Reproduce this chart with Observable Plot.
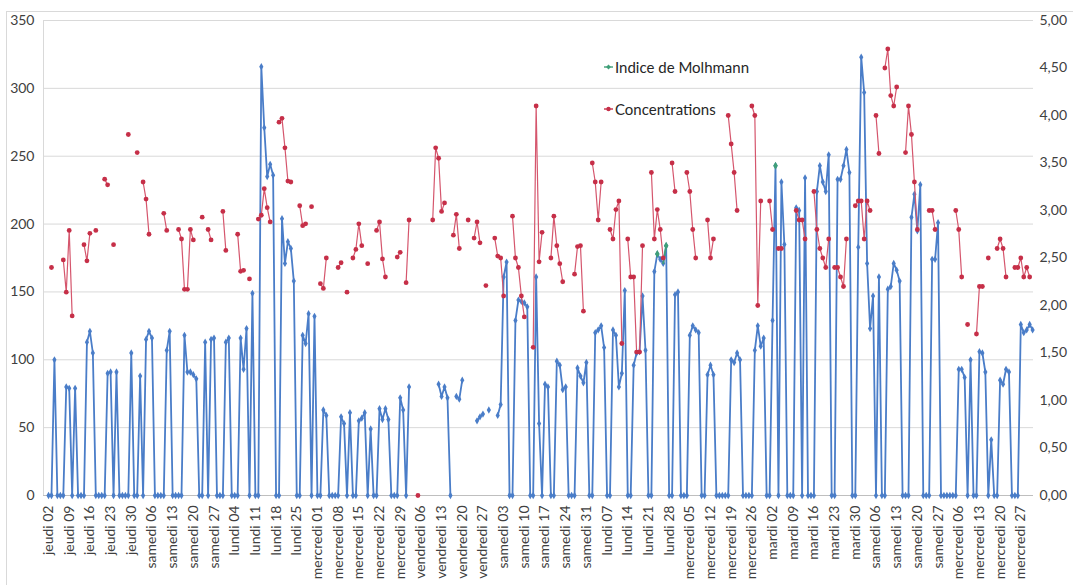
<!DOCTYPE html>
<html>
<head>
<meta charset="utf-8">
<script src="https://cdn.jsdelivr.net/npm/d3@7"></script>
<script src="https://cdn.jsdelivr.net/npm/@observablehq/plot@0.6"></script>
<style>
  html, body { margin: 0; padding: 0; background: #fff; }
  #chart { position: relative; width: 1073px; height: 585px; overflow: hidden; font-family: Lato, "Open Sans", sans-serif; }
  #chart > svg { position: absolute; left: 0; top: 0; }
  #border { position: absolute; left: 6px; top: 11px; width: 1080px; height: 600px; border: 1px solid #d9d9d9; box-sizing: border-box; }
  .legend-item { position: absolute; left: 604px; height: 16px; display: flex; align-items: center; font-size: 15px; color: #262626; white-space: nowrap; }
  .legend-item svg { display: block; margin-right: 2px; }
</style>
</head>
<body>
<div id="chart">
  <div id="border"></div>
</div>
<script>
// Day labels shown every 7th day on the horizontal axis
const dayLabels = [
  "jeudi 02", "jeudi 09", "jeudi 16", "jeudi 23", "jeudi 30",
  "samedi 06", "samedi 13", "samedi 20", "samedi 27",
  "lundi 04", "lundi 11", "lundi 18", "lundi 25",
  "mercredi 01", "mercredi 08", "mercredi 15", "mercredi 22", "mercredi 29",
  "vendredi 06", "vendredi 13", "vendredi 20", "vendredi 27",
  "samedi 03", "samedi 10", "samedi 17", "samedi 24", "samedi 31",
  "lundi 07", "lundi 14", "lundi 21", "lundi 28",
  "mercredi 05", "mercredi 12", "mercredi 19", "mercredi 26",
  "mardi 02", "mardi 09", "mardi 16", "mardi 23", "mardi 30",
  "samedi 06", "samedi 13", "samedi 20", "samedi 27",
  "mercredi 06", "mercredi 13", "mercredi 20", "mercredi 27"
];

// Indice de Molhmann, one value per day (null = no measurement)
const molhmann = [
  0, 0, 100, 0, 0, 0, 80, 79, 0, 79,
  0, 0, 0, 113, 121, 105, 0, 0, 0, 0,
  90, 91, 0, 91, 0, 0, 0, 0, 105, 0,
  0, 88, 0, 115, 121, 116, 0, 0, 0, 0,
  107, 121, 0, 0, 0, 0, 118, 91, 91, 89,
  86, 0, 0, 113, 0, 115, 116, 0, 0, 0,
  113, 116, 0, 0, 0, 116, 93, 123, 0, 149,
  0, 0, 316, 271, 235, 244, 236, 0, 0, 204,
  171, 187, 182, 158, 0, 0, 118, 112, 134, 0,
  132, 0, 0, 63, 59, 0, 0, 0, 0, 58,
  53, 0, 61, 0, 0, 55, 57, 61, 0, 49,
  0, 0, 64, 56, 64, 56, 0, 0, 0, 72,
  63, 0, 80, null, null, null, null, null, null, null,
  null, null, 82, 73, 80, 72, 0, null, 73, 71,
  85, null, null, null, null, 55, 58, 60, null, 63,
  null, null, 59, 67, 161, 172, 0, 0, 129, 144,
  143, 142, 139, 0, 0, 161, 53, 0, 82, 80,
  0, 0, 99, 96, 78, 80, 0, 0, 0, 94,
  88, 83, 98, 0, 0, 120, 122, 125, 109, 0,
  0, 122, 118, 80, 90, 151, 0, 0, 96, 105,
  106, 147, 107, 0, 0, 165, 178, 174, 171, 184,
  0, 0, 148, 150, 0, 0, 0, 118, 125, 122,
  120, 0, 0, 89, 96, 89, 0, 0, 0, 0,
  0, 100, 98, 105, 100, 0, 0, 0, 0, 107,
  125, 110, 116, 0, 0, 129, 243, 0, 231, 185,
  0, 0, 0, 212, 210, 0, 234, 0, 0, 0,
  224, 243, 231, 224, 251, 0, 0, 233, 233, 243,
  255, 238, 0, 0, 183, 323, 297, 171, 123, 147,
  0, 161, 0, 0, 152, 154, 171, 166, 158, 0,
  0, 0, 205, 222, 195, 229, 0, 0, 0, 174,
  174, 201, 0, 0, 0, 0, 0, 0, 93, 93,
  87, 0, 100, 0, 0, 106, 105, 91, 0, 41,
  0, 0, 85, 82, 93, 91, 0, 0, 0, 126,
  120, 122, 126, 122
];

// Concentrations (right axis), one value per day (null = no measurement)
const concentrations = [
  null, 2.40, null, null, null, 2.48, 2.14, 2.79, 1.89, null,
  null, null, 2.64, 2.47, 2.76, null, 2.79, null, null, 3.33,
  3.27, null, 2.64, null, null, null, null, 3.80, null, null,
  3.61, null, 3.30, 3.12, 2.75, null, null, null, null, 2.97,
  2.79, null, null, null, 2.80, 2.70, 2.17, 2.17, 2.80, 2.69,
  null, null, 2.93, null, 2.80, 2.69, null, null, null, 2.99,
  2.58, null, null, null, 2.75, 2.36, 2.37, null, 2.28, null,
  null, 2.91, 2.95, 3.23, 3.03, 2.88, null, null, 3.93, 3.97,
  3.66, 3.31, 3.30, null, null, 3.05, 2.84, 2.86, null, 3.04,
  null, null, 2.23, 2.18, 2.50, null, null, null, 2.40, 2.45,
  null, 2.14, null, 2.50, 2.59, 2.86, 2.63, null, 2.44, null,
  null, 2.79, 2.88, 2.49, 2.30, null, null, null, 2.51, 2.56,
  null, 2.24, 2.90, null, null, 0.00, null, null, null, null,
  2.90, 3.66, 3.55, 2.99, 3.08, null, null, 2.74, 2.96, 2.60,
  null, null, 2.90, null, 2.71, 2.88, 2.66, null, 2.21, null,
  null, 2.71, 2.52, 2.50, 2.10, null, null, 2.94, 2.50, 2.40,
  2.10, 1.88, null, null, 1.56, 4.10, 2.46, 2.77, null, null,
  2.50, 2.94, 2.63, 2.44, 2.25, null, null, null, 2.33, 2.62,
  2.63, 1.94, null, null, 3.50, 3.30, 2.90, 3.30, null, null,
  2.80, 2.70, 3.01, 3.10, 1.60, null, 2.70, 2.30, 2.30, 1.51,
  1.51, 2.63, null, null, 3.40, 2.70, 3.01, 2.80, 2.50, null,
  null, 3.50, 3.20, null, null, null, 3.40, 3.20, 2.80, 2.50,
  null, null, null, 2.90, 2.50, 2.70, null, null, null, null,
  4.00, 3.70, 3.40, 3.00, null, null, null, null, 4.10, 4.00,
  2.00, 3.10, null, null, 3.10, 2.80, null, 2.60, 2.60, null,
  null, null, null, 3.00, 2.90, 2.90, 2.70, null, null, 3.20,
  2.80, 2.60, 2.50, 2.40, 2.70, null, 2.40, 2.40, 2.30, 2.20,
  2.70, null, null, 3.05, 3.10, 3.10, 2.70, 3.10, 3.00, null,
  4.00, 3.60, null, 4.50, 4.70, 4.21, 4.10, 4.30, null, null,
  3.61, 4.10, 3.80, 3.30, 2.80, null, null, null, 3.00, 3.00,
  2.80, null, null, null, null, null, null, 3.00, 2.80, 2.30,
  null, 1.80, null, null, 1.70, 2.20, 2.20, null, 2.50, null,
  null, 2.60, 2.70, 2.60, 2.30, null, null, 2.40, 2.40, 2.50,
  2.30, 2.40, 2.30, null
];

// Days where the Molhmann index series shows in its own (green) colour
const molhmannGreenLine = [208, 209];
const molhmannGreenDots = [206, 209, 246];

const leftTicks = [0, 50, 100, 150, 200, 250, 300, 350];
const rightTicks = [0, 0.5, 1, 1.5, 2, 2.5, 3, 3.5, 4, 4.5, 5];
const CONC_SCALE = 70; // 5,00 on the right axis sits level with 350 on the left

const BLUE = "#4a7dc8";
const RED_LINE = "#d5566d";
const RED_DOT = "#c62f48";
const GREEN = "#3f9f78";

const days = d3.range(molhmann.length);
const labelDays = dayLabels.map((_, k) => k * 7);
const commaFmt = v => v.toFixed(2).replace(".", ",");
const concY = d => concentrations[d] == null ? NaN : concentrations[d] * CONC_SCALE;

const plot = Plot.plot({
  width: 1073,
  height: 585,
  marginLeft: 43,
  marginRight: 40,
  marginTop: 20,
  marginBottom: 90,
  style: { fontFamily: "Lato, 'Open Sans', sans-serif", fontSize: "14px", color: "#404040", background: "transparent", overflow: "visible" },
  x: { type: "linear", domain: [-1.7, 333.3] },
  y: { domain: [0, 350] },
  marks: [
    Plot.gridY(leftTicks.slice(1), { stroke: "#d9d9d9", strokeOpacity: 1 }),
    Plot.ruleX([-1.7], { stroke: "#d9d9d9" }),
    Plot.ruleY([0], { stroke: "#bfbfbf" }),
    Plot.axisY(leftTicks, { anchor: "left", tickSize: 0, tickPadding: 9, label: null, fontSize: 14 }),
    Plot.axisY(rightTicks.map(c => c * CONC_SCALE), { anchor: "right", tickSize: 0, tickPadding: 6, label: null, fontSize: 14, tickFormat: v => commaFmt(v / CONC_SCALE) }),
    Plot.axisX(labelDays, { anchor: "bottom", tickSize: 0, tickPadding: 10, tickRotate: -90, label: null, fontSize: 14, tickFormat: d => dayLabels[d / 7] }),

    // Indice de Molhmann
    Plot.line(days, { x: d => d, y: d => molhmann[d], stroke: BLUE, strokeWidth: 1.8 }),
    Plot.dot(days.filter(d => molhmann[d] != null), { x: d => d, y: d => molhmann[d], symbol: "diamond", r: 2.2, fill: BLUE }),
    Plot.line(molhmannGreenLine, { x: d => d, y: d => molhmann[d], stroke: GREEN, strokeWidth: 1.8 }),
    Plot.dot(molhmannGreenDots, { x: d => d, y: d => molhmann[d], symbol: "diamond", r: 2.4, fill: GREEN }),

    // Concentrations
    Plot.line(days, { x: d => d, y: concY, stroke: RED_LINE, strokeWidth: 1.2 }),
    Plot.dot(days.filter(d => concentrations[d] != null), { x: d => d, y: concY, r: 2.4, fill: RED_DOT })
  ]
});

const chart = document.getElementById("chart");
chart.appendChild(plot);

// Legend
function legendItem(label, color, top, round) {
  const item = document.createElement("div");
  item.className = "legend-item";
  item.style.top = top + "px";
  const marker = round
    ? `<circle cx="4.5" cy="5" r="2.2" fill="${color}"/>`
    : `<path d="M4.5 2.6 L6.9 5 L4.5 7.4 L2.1 5 Z" fill="${color}"/>`;
  item.innerHTML = `<svg width="9" height="10"><line x1="0" y1="5" x2="9" y2="5" stroke="${color}" stroke-width="1.4"/>${marker}</svg><span>${label}</span>`;
  chart.appendChild(item);
}
legendItem("Indice de Molhmann", GREEN, 59, false);
legendItem("Concentrations", RED_DOT, 101, true);
</script>
</body>
</html>
